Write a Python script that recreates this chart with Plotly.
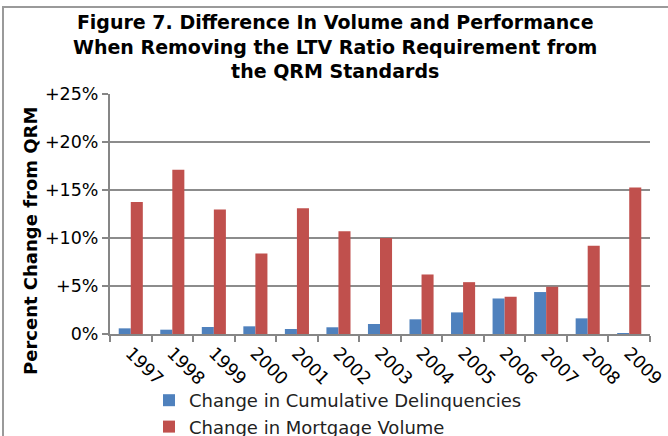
import plotly.graph_objects as go

years = ["1997", "1998", "1999", "2000", "2001", "2002", "2003",
         "2004", "2005", "2006", "2007", "2008", "2009"]
delinquencies = [0.59, 0.45, 0.73, 0.80, 0.52, 0.70, 1.04,
                 1.53, 2.25, 3.70, 4.37, 1.63, 0.05]
volume = [13.75, 17.1, 12.96, 8.39, 13.1, 10.7, 10.0,
          6.2, 5.4, 3.88, 4.92, 9.18, 15.25]
y_tick_vals = [0, 5, 10, 15, 20, 25]
y_tick_text = ["0%", "+5%", "+10%", "+15%", "+20%", "+25%"]

title_text = ("Figure 7. Difference In Volume and Performance<br>"
              "When Removing the LTV Ratio Requirement from<br>"
              "the QRM Standards")

W, H = 668, 436
PL, PR, PT, PB = 110, 650, 94, 334          # plot area in page pixels
L, T = PL, PT
R, B = W - PR, H - PB
pw, ph = PR - PL, PB - PT

def px_x(x):
    return (x - PL) / pw

def px_y(y):
    return (PB - y) / ph

fig = go.Figure()
fig.add_trace(go.Bar(x=years, y=delinquencies, name="Change in Cumulative Delinquencies",
                     marker=dict(color="#4F81BD", line=dict(width=0))))
fig.add_trace(go.Bar(x=years, y=volume, name="Change in Mortgage Volume",
                     marker=dict(color="#C0504D", line=dict(width=0))))

fig.update_layout(
    width=W, height=H,
    margin=dict(l=L, r=R, t=T, b=B, autoexpand=False),
    paper_bgcolor="white", plot_bgcolor="white",
    font=dict(family="DejaVu Sans", size=17, color="#000000"),
    barmode="group", bargap=0.42, bargroupgap=0,
    hovermode=False,
    showlegend=True,
    legend=dict(orientation="v", x=px_x(149), y=px_y(382), xanchor="left", yanchor="top",
                font=dict(size=18, color="#222222"), bgcolor="rgba(0,0,0,0)",
                tracegroupgap=0, itemwidth=30),
    xaxis=dict(type="category", tickangle=45, showgrid=False, automargin=False,
               showline=True, linecolor="#868686", linewidth=2,
               ticks="outside", ticklen=6, tickcolor="#868686", tickwidth=2,
               tickson="boundaries", tickfont=dict(size=17.5, color="#000000")),
    yaxis=dict(range=[0, 25], tickvals=y_tick_vals, ticktext=y_tick_text,
               showgrid=True, gridcolor="#8c8c8c", gridwidth=2, automargin=False,
               showline=True, linecolor="#868686", linewidth=2,
               ticks="outside", ticklen=6, tickcolor="#868686", tickwidth=2,
               zeroline=False, tickfont=dict(size=17.5, color="#000000")),
)

fig.add_annotation(text=title_text, xref="paper", yref="paper",
                   x=px_x(335), y=px_y(9), xanchor="center", yanchor="top",
                   showarrow=False, align="center",
                   font=dict(family="DejaVu Sans", size=19, color="#000000", weight="bold"))

fig.add_annotation(text="Percent Change from QRM", textangle=-90,
                   xref="paper", yref="paper", x=px_x(30), y=px_y(241),
                   xanchor="center", yanchor="middle", showarrow=False,
                   font=dict(family="DejaVu Sans", size=18, color="#000000", weight="bold"))

fig.add_shape(type="rect", xref="paper", yref="paper",
              x0=px_x(3), x1=px_x(700), y0=px_y(7), y1=px_y(460),
              line=dict(color="#9a9a9a", width=2), fillcolor="rgba(0,0,0,0)", layer="below")

fig.write_html("out.html",
               config={"displayModeBar": False},
               post_script="document.body.style.margin='0';document.body.style.overflow='hidden';")
